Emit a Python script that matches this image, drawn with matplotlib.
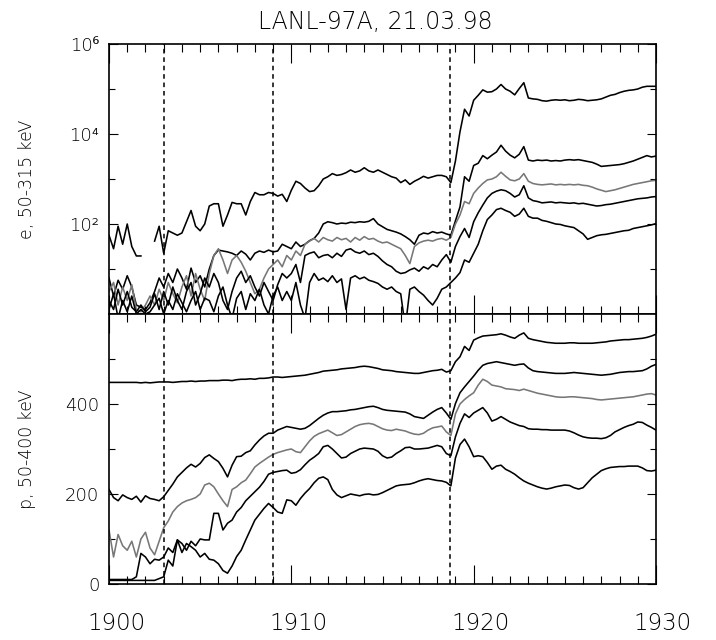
import numpy as np
import matplotlib.pyplot as plt
from matplotlib.ticker import FixedLocator, NullFormatter
from matplotlib.transforms import ScaledTranslation

nan = np.nan

# UT, 15 s steps from 19:00 to 19:30
t = 1900 + 0.25 * np.arange(121)

# electron channels (50-315 keV), log10 of flux, lowest energy first
e1_log = [1.75, 1.45, 1.95, 1.55, 2.0, 1.5, 1.29, 1.29, nan, nan, 1.62, 1.95,
          1.35, 1.85, 1.8, 1.75, 1.8, 2.05, 2.3, 1.95, 1.85, 2.0, 2.4, 2.45,
          2.45, 1.95, 2.2, 2.48, 2.45, 2.45, 2.2, 2.5, 2.7, 2.65, 2.65, 2.7,
          2.68, 2.62, 2.66, 2.5, 2.75, 2.95, 2.9, 2.8, 2.72, 2.74, 2.85, 3.0,
          3.05, 3.12, 3.08, 3.1, 3.14, 3.2, 3.15, 3.18, 3.25, 3.18, 3.15, 3.2,
          3.15, 3.1, 3.05, 3.02, 2.92, 2.98, 2.88, 2.95, 3.0, 3.06, 3.02, 3.05,
          3.08, 3.08, 3.05, 2.92, 3.4, 4.05, 4.55, 4.4, 4.75, 4.86, 4.98, 4.93,
          4.94, 5.0, 5.1, 5.0, 4.95, 4.87, 5.01, 5.14, 4.8, 4.78, 4.77, 4.74,
          4.73, 4.75, 4.76, 4.75, 4.76, 4.74, 4.75, 4.77, 4.76, 4.74, 4.75, 4.76,
          4.78, 4.82, 4.86, 4.88, 4.92, 4.95, 4.97, 4.98, 5.0, 5.04, 5.06, 5.06,
          5.06]
e2_log = [0.8, 0.4, 0.75, 0.55, 0.85, 0.6, 0.2, 0.15, 0.1, 0.25, 0.5, 0.8,
          0.6, 0.9, 0.7, 1.0, 0.8, 0.55, 1.02, 0.7, 0.85, 0.6, 1.0, 1.3,
          1.42, 1.4, 1.38, 1.35, 1.3, 1.4, 1.33, 1.2, 1.35, 1.4, 1.37, 1.42,
          1.38, 1.4, 1.55, 1.5, 1.45, 1.6, 1.5, 1.55, 1.63, 1.68, 1.8, 2.0,
          2.05, 2.03, 2.0, 2.02, 2.01, 2.04, 2.03, 2.05, 2.04, 2.06, 2.12, 2.0,
          1.94, 1.88, 1.85, 1.82, 1.78, 1.72, 1.65, 1.55, 1.75, 1.8, 1.78, 1.83,
          1.8, 1.82, 1.78, 1.75, 2.07, 2.38, 3.05, 2.95, 3.3, 3.35, 3.52, 3.45,
          3.53, 3.6, 3.75, 3.62, 3.53, 3.47, 3.55, 3.72, 3.42, 3.4, 3.42, 3.41,
          3.42, 3.4, 3.41, 3.4, 3.42, 3.43, 3.42, 3.43, 3.41, 3.39, 3.37, 3.33,
          3.28, 3.29, 3.3, 3.31, 3.32, 3.34, 3.37, 3.4, 3.44, 3.48, 3.52, 3.49,
          3.51]
e3_log = [0.5, 0.7, 0.2, 0.6, 0.3, 0.65, 0.1, 0.05, 0.2, 0.4, 0.2, 0.55,
          0.3, 0.7, 0.45, 0.25, 0.6, 0.85, 0.4, 0.9, 0.55, 0.3, 0.9, 1.3,
          1.45, 1.2, 0.9, 1.2, 1.3, 1.15, 0.95, 0.7, 0.45, 0.55, 0.8, 1.0,
          1.1, 1.2, 1.05, 1.3, 1.2, 1.4, 1.3, 1.55, 1.62, 1.68, 1.6, 1.7,
          1.65, 1.62, 1.7, 1.65, 1.68, 1.6, 1.7, 1.64, 1.72, 1.66, 1.68, 1.62,
          1.58, 1.6, 1.55, 1.5, 1.45, 1.3, 1.12, 1.5, 1.58, 1.62, 1.64, 1.62,
          1.66, 1.68, 1.64, 1.7, 2.0, 2.2, 2.5, 2.45, 2.68, 2.8, 2.9, 2.98,
          3.0, 3.05, 3.15, 3.06, 2.98, 2.96, 3.0, 3.12, 2.95, 2.9, 2.88, 2.87,
          2.88, 2.89, 2.87, 2.88, 2.87, 2.88, 2.87, 2.88, 2.86, 2.85, 2.82, 2.78,
          2.75, 2.72, 2.74, 2.76, 2.79, 2.82, 2.85, 2.88, 2.9, 2.92, 2.94, 2.96,
          2.97]
e4_log = [0.3, 0.1, 0.55, 0.2, 0.5, 0.15, 0.05, 0.2, 0.05, 0.15, 0.45, 0.1,
          0.5, 0.2, 0.6, 0.3, 0.1, 0.5, 0.7, 0.2, 0.45, 0.8, 0.6, 0.9,
          0.7, 0.3, 0.1, 0.5, 0.8, 0.95, 0.7, 0.85, 0.6, 0.4, 0.7, 0.5,
          0.3, 0.65, 0.9, 0.8, 0.9, 1.1, 0.7, 1.3, 1.35, 1.38, 1.25, 1.3,
          1.32, 1.25, 1.35, 1.28, 1.42, 1.45, 1.38, 1.35, 1.4, 1.32, 1.35, 1.28,
          1.18, 1.1, 1.05, 0.95, 0.9, 0.92, 0.98, 1.02, 0.95, 1.05, 1.0, 1.1,
          1.05, 1.2, 1.32, 1.15, 1.5, 1.72, 1.9, 1.7, 2.05, 2.25, 2.42, 2.58,
          2.68, 2.73, 2.76, 2.74, 2.68, 2.6, 2.65, 2.85, 2.58, 2.52, 2.5, 2.47,
          2.48, 2.49, 2.47, 2.48, 2.47, 2.46, 2.47, 2.45, 2.46, 2.44, 2.42, 2.4,
          2.41, 2.43, 2.44, 2.46, 2.48, 2.5, 2.52, 2.54, 2.56, 2.57, 2.58, 2.6,
          2.61]
e5_log = [0.1, 0.45, -0.1, 0.3, 0.05, 0.4, 0.0, 0.1, 0.0, 0.05, 0.2, 0.35,
          0.0, 0.3, 0.1, 0.45, 0.25, 0.05, 0.3, 0.5, 0.1, 0.35, 0.3, 0.05,
          0.4, 0.6, 0.2, -0.1, 0.35, 0.5, 0.1, 0.45, 0.3, 0.55, 0.2, 0.0,
          0.4, 0.6, 0.3, 0.5, 0.3, 0.7, 0.2, -0.1, 0.7, 0.9, 0.75, 0.8,
          0.72, 0.85, 0.7, 0.78, 0.1, 0.8, 0.85, 0.78, 0.82, 0.75, 0.72, 0.68,
          0.6, 0.55, 0.6, 0.5, 0.45, -0.3, 0.55, 0.6, 0.5, 0.42, 0.3, 0.2,
          0.35, 0.55, 0.6, 0.7, 0.8, 0.92, 1.2, 1.15, 1.35, 1.55, 1.85, 2.1,
          2.2, 2.32, 2.35, 2.3, 2.26, 2.17, 2.22, 2.35, 2.17, 2.13, 2.13, 2.08,
          2.06, 2.03, 2.0, 1.99, 1.96, 1.94, 1.92, 1.85, 1.78, 1.66, 1.7, 1.74,
          1.76, 1.77, 1.79, 1.81, 1.83, 1.85, 1.86, 1.9, 1.92, 1.94, 1.96, 1.98,
          2.01]

# proton channels (50-400 keV), lowest energy first
p1 = [448, 448, 448, 448, 448, 448, 448, 447, 448, 447, 448, 449,
      449, 449, 448, 449, 450, 450, 451, 450, 451, 451, 452, 452,
      452, 453, 453, 452, 454, 455, 455, 456, 455, 457, 457, 458,
      460, 460, 459, 460, 461, 462, 463, 464, 466, 468, 470, 473,
      474, 475, 476, 478, 479, 480, 481, 483, 484, 483, 481, 479,
      476, 475, 474, 472, 471, 470, 469, 468, 468, 470, 472, 474,
      475, 477, 471, 474, 494, 505, 528, 519, 542, 547, 551, 552,
      553, 554, 556, 553, 549, 546, 553, 558, 546, 543, 541, 539,
      537, 536, 535, 535, 535, 536, 536, 535, 535, 535, 535, 536,
      537, 538, 540, 541, 542, 543, 543, 544, 545, 546, 548, 551,
      555]
p2 = [210, 192, 185, 198, 192, 188, 195, 182, 196, 190, 188, 185,
      194, 208, 222, 238, 248, 258, 266, 260, 268, 281, 287, 279,
      272, 257, 238, 264, 283, 284, 292, 296, 309, 320, 329, 335,
      335, 342, 346, 350, 348, 346, 344, 346, 352, 360, 368, 375,
      380, 383, 383, 384, 385, 387, 388, 390, 392, 394, 395, 392,
      388, 386, 385, 384, 383, 382, 378, 372, 370, 368, 375, 382,
      388, 392, 380, 366, 401, 425, 438, 450, 462, 475, 486, 490,
      492, 494, 492, 490, 488, 486, 488, 489, 480, 474, 472, 471,
      470, 469, 468, 468, 468, 469, 470, 469, 468, 467, 466, 465,
      464, 465, 466, 468, 470, 471, 472, 472, 473, 474, 478, 484,
      488]
p3 = [120, 60, 110, 85, 75, 95, 60, 100, 115, 80, 65, 95,
      125, 140, 160, 172, 180, 185, 188, 192, 200, 220, 224, 216,
      200, 185, 172, 210, 216, 225, 231, 245, 260, 268, 275, 282,
      288, 292, 295, 298, 300, 294, 292, 305, 318, 328, 334, 338,
      342, 336, 330, 332, 338, 344, 350, 354, 356, 357, 355, 350,
      345, 342, 341, 344, 342, 340, 336, 333, 332, 335, 342, 347,
      349, 351, 338, 330, 378, 400, 410, 418, 425, 442, 455, 450,
      442, 440, 438, 434, 433, 432, 430, 433, 430, 427, 424, 422,
      420, 418, 416, 415, 415, 416, 416, 415, 414, 413, 412, 410,
      409, 410, 411, 412, 413, 414, 415, 416, 418, 420, 422, 423,
      420]
p4 = [10, 10, 10, 10, 10, 10, 16, 68, 60, 45, 55, 53,
      60, 80, 70, 98, 90, 75, 95, 85, 100, 98, 98, 157,
      157, 120, 135, 142, 160, 170, 185, 195, 205, 215, 228, 244,
      248, 250, 252, 253, 246, 248, 254, 265, 275, 282, 290, 305,
      308, 300, 290, 280, 282, 290, 295, 300, 302, 301, 300, 295,
      285, 280, 282, 290, 296, 303, 304, 300, 300, 301, 302, 305,
      308, 305, 290, 285, 327, 357, 378, 370, 380, 386, 392, 380,
      362, 366, 372, 366, 360, 356, 352, 350, 345, 344, 344, 343,
      343, 342, 342, 342, 342, 340, 336, 331, 327, 325, 324, 324,
      323, 325, 330, 338, 343, 348, 352, 355, 360, 359, 353, 348,
      342]
p5 = [8, 8, 8, 8, 8, 8, 8, 8, 8, 8, 8, 12,
      16, 53, 40, 98, 70, 90, 83, 75, 60, 68, 55, 53,
      45, 30, 24, 40, 61, 75, 98, 120, 142, 155, 168, 179,
      170, 160, 157, 187, 185, 175, 190, 202, 212, 225, 235, 238,
      232, 210, 198, 192, 196, 200, 198, 196, 199, 200, 198, 199,
      203, 208, 213, 218, 220, 221, 222, 225, 229, 232, 234, 232,
      230, 229, 226, 218, 280, 310, 322, 305, 283, 285, 283, 270,
      255, 262, 264, 255, 250, 244, 236, 229, 224, 220, 216, 213,
      211, 213, 216, 218, 220, 219, 214, 211, 214, 225, 236, 244,
      252, 256, 259, 260, 261, 261, 262, 262, 262, 258, 252, 251,
      253]

event_times = [1903.0, 1909.0, 1918.7]
line_colors = ['black', 'black', '#777777', 'black', 'black']

# light DejaVu lacks some superscript digits, Noto Sans fills them in
plt.rcParams['font.family'] = ['DejaVu Sans', 'Noto Sans']
plt.rcParams['font.weight'] = 'light'

W, H = 716, 640
fig = plt.figure(figsize=(W / 100, H / 100), dpi=100)
ax_e = fig.add_axes([109 / W, 1 - 314 / H, 547 / W, 270 / H])
ax_p = fig.add_axes([109 / W, 1 - 584 / H, 547 / W, 270 / H])

for series, c in zip([e1_log, e2_log, e3_log, e4_log, e5_log], line_colors):
    ax_e.plot(t, 10 ** np.array(series), color=c, lw=1.15)
for series, c in zip([p1, p2, p3, p4, p5], line_colors):
    ax_p.plot(t, series, color=c, lw=1.15)

for ax in (ax_e, ax_p):
    for tv in event_times:
        ax.axvline(tv, color='black', lw=1.1, linestyle=(0, (3, 2.5)))
    ax.set_xlim(1900, 1930)
    ax.xaxis.set_major_locator(FixedLocator([1900, 1910, 1920, 1930]))
    ax.xaxis.set_minor_locator(FixedLocator(np.arange(1901, 1930)))
    ax.tick_params(axis='both', which='both', direction='in', top=True, right=True,
                   width=0.8, color='black')
    ax.tick_params(axis='x', which='major', length=13.5)
    ax.tick_params(axis='x', which='minor', length=5.5)
    ax.tick_params(axis='y', which='major', length=6.5, pad=7, labelsize=13)
    ax.tick_params(axis='y', which='minor', length=4.3)
    for s in ax.spines.values():
        s.set_linewidth(1.2)

ax_e.set_yscale('log')
ax_e.set_ylim(1, 1e6)
ax_e.yaxis.set_major_locator(FixedLocator([1e2, 1e4, 1e6]))
ax_e.yaxis.set_minor_locator(FixedLocator([1e1, 1e3, 1e5]))
ax_e.set_yticklabels(['10²', '10⁴', '10⁶'])
ax_e.yaxis.set_minor_formatter(NullFormatter())
ax_e.tick_params(axis='x', labelbottom=False)

ax_p.set_ylim(0, 600)
ax_p.yaxis.set_major_locator(FixedLocator([0, 200, 400]))
ax_p.yaxis.set_minor_locator(FixedLocator([100, 300, 500]))
ax_p.set_xticklabels(['1900', '1910', '1920', '1930'])
ax_p.tick_params(axis='x', which='major', pad=20, labelsize=16.5)
# time labels sit a little right of their ticks
shift = ScaledTranslation(7 / 100, 0, fig.dpi_scale_trans)
for lab in ax_p.get_xticklabels():
    lab.set_transform(lab.get_transform() + shift)

fig.text(375 / W, 1 - 29 / H, 'LANL-97A, 21.03.98', ha='center', va='baseline',
         fontsize=17)
fig.text(27 / W, 1 - 179 / H, 'e, 50-315 keV', rotation=90, ha='center', va='center',
         fontsize=12.5)
fig.text(27 / W, 1 - 449 / H, 'p, 50-400 keV', rotation=90, ha='center', va='center',
         fontsize=12.5)

fig.savefig('out.png', dpi=100)
